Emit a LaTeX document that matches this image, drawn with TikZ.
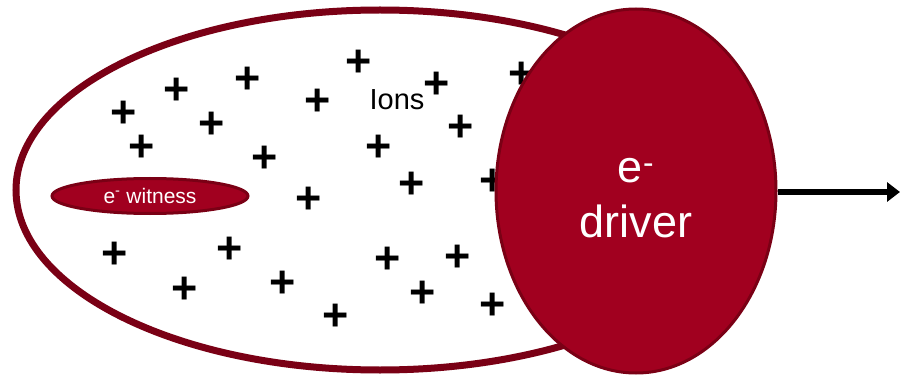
\documentclass[tikz,border=0pt]{standalone}
\usepackage{fontspec}
\setmainfont{Liberation Sans}
\usetikzlibrary{shapes.geometric, arrows.meta}
\definecolor{beamred}{RGB}{161,0,31}
\definecolor{beamedge}{RGB}{122,0,21}
\begin{document}
\begin{tikzpicture}[x=1pt,y=-1pt,
  plasmabox/.style={ellipse, draw=beamedge, line width=7pt, fill=white, minimum width=728pt, minimum height=360pt, inner sep=0pt},
  bunch/.style={ellipse, draw=beamedge, fill=beamred, text=white, inner sep=0pt},
  ion/.style={font=\fontsize{45}{45}\selectfont\bfseries, inner sep=0pt, text height=31.8pt, text depth=0pt},
  drivertext/.style={text=white, align=center, inner sep=0pt, font=\fontsize{45}{55}\selectfont},
  beamarrow/.style={line width=5.5pt, -{Triangle[length=13pt, width=19pt]}}]
\useasboundingbox (0,0) rectangle (900,377);
\node[plasmabox] (plasma) at (380,190) {};
\node[bunch, line width=3pt, minimum width=196pt, minimum height=35pt,
  font=\fontsize{21}{21}\selectfont] (witness) at (150,196) {e\textsuperscript{-} witness};
\foreach \p [count=\i] in {(359,61),(248,78),(177,89),(124,112),(212,123),(318,100),
  (437,83),(142,146),(265,157),(379,146),(412,183),(309,198),(522,73),(461,126),
  (493,180),(115,253),(230,248),(388,258),(185,288),(283,282),(423,292),(336,315),
  (458,256),(493,304)}
  \node[ion] (ion\i) at \p {+};
\node[font=\fontsize{29}{29}\selectfont, inner sep=0pt] (ions) at (397,100) {Ions};
\node[bunch, line width=3pt, minimum width=280pt, minimum height=364pt] (driver) at (636,191) {};
\node[drivertext] (drivertxt) at ([yshift=-7pt]driver.center) {e\textsuperscript{-}\\driver};
\coordinate (out) at (900,192);
\draw[beamarrow] (driver.east |- out) -- (out);
\end{tikzpicture}
\end{document}
